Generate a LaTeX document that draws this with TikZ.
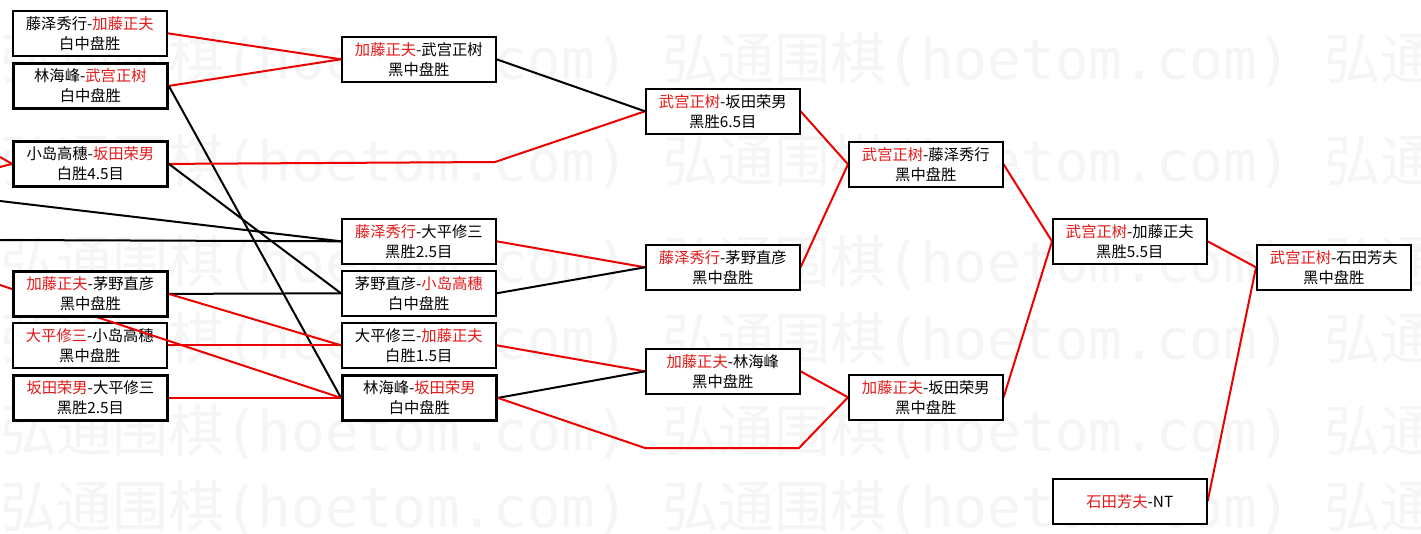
\documentclass[tikz,border=0pt]{standalone}
\usepackage{fontspec}
\setmainfont{Noto Sans CJK SC}
\newfontfamily\wmmono{DejaVu Sans Mono}
\usetikzlibrary{backgrounds}
\pgfdeclarelayer{paper}
\pgfsetlayers{paper,background,main}
\definecolor{wred}{RGB}{228,24,24}
\definecolor{lred}{RGB}{236,0,0}
\definecolor{wmark}{RGB}{245,245,245}
\newcommand{\R}[1]{\textcolor{wred}{#1}}
\newcommand{\wmtext}{弘通围棋{\wmmono(hoetom.com)\ }}
\begin{document}
\begin{tikzpicture}[x=1pt,y=-1pt,
  game/.style={draw=black, line width=1.6pt, fill=white, rectangle,
    minimum width=154pt, minimum height=45pt, inner sep=0pt,
    anchor=north west, align=center, font=\fontsize{15.3}{20}\selectfont},
  heavy/.style={game, line width=2.8pt},
  win/.style={draw=lred, line width=2pt},
  lose/.style={draw=black, line width=2pt},
  wm/.style={anchor=west, text=wmark, inner sep=0pt, font=\fontsize{56}{60}\selectfont}
]
\useasboundingbox (0,0) rectangle (1421,533);
\begin{pgfonlayer}{paper}
  \fill[white] (0,0) rectangle (1421,533);
  \begin{scope}
    \clip (0,0) rectangle (1421,533);
    \foreach \yy in {60,162,263,340,432,508}
      \node[wm] at (0,\yy) {\wmtext\wmtext 弘通};
  \end{scope}
\end{pgfonlayer}

% round 1 (partial)
\node[game]  (A1) at (12,10)  {藤泽秀行-\R{加藤正夫}\\白中盘胜};
\node[heavy] (A2) at (12,62)  {林海峰-\R{武宫正树}\\白中盘胜};
\node[heavy] (A3) at (12,140) {小岛高穗-\R{坂田荣男}\\白胜4.5目};
\node[game]  (A5) at (12,322) {\R{大平修三}-小岛高穗\\黑中盘胜};
\node[heavy] (A6) at (12,374) {\R{坂田荣男}-大平修三\\黑胜2.5目};
% round 2
\node[game]  (B1) at (341,36)  {\R{加藤正夫}-武宫正树\\黑中盘胜};
\node[game]  (B2) at (341,218) {\R{藤泽秀行}-大平修三\\黑胜2.5目};
\node[game]  (B3) at (341,270) {茅野直彦-\R{小岛高穗}\\白中盘胜};
\node[game]  (B4) at (341,322) {大平修三-\R{加藤正夫}\\白胜1.5目};
\node[heavy] (B5) at (341,374) {林海峰-\R{坂田荣男}\\白中盘胜};
% round 3
\node[game] (C1) at (645,88)  {\R{武宫正树}-坂田荣男\\黑胜6.5目};
\node[game] (C2) at (645,244) {\R{藤泽秀行}-茅野直彦\\黑中盘胜};
\node[game] (C3) at (645,348) {\R{加藤正夫}-林海峰\\黑中盘胜};
% round 4
\node[game] (D1) at (848,141) {\R{武宫正树}-藤泽秀行\\黑中盘胜};
\node[game] (D2) at (848,374) {\R{加藤正夫}-坂田荣男\\黑中盘胜};
% round 5
\node[game] (E1) at (1052,218) {\R{武宫正树}-加藤正夫\\黑胜5.5目};
\node[game] (E2) at (1052,478) {\R{石田芳夫}-NT};
% final
\node[game] (F1) at (1256,244) {\R{武宫正树}-石田芳夫\\黑中盘胜};

% free ends at the left border and bends
\coordinate (L1) at (0,157);
\coordinate (L2) at (0,167);
\coordinate (L3) at (0,201);
\coordinate (L4) at (0,240);
\coordinate (L5) at (0,285);
\coordinate (K1) at (495,162);
\coordinate (K2) at (645,448);
\coordinate (K3) at (799,448);

\begin{pgfonlayer}{background}
  \draw[win] (L1) -- (A3.west);
  \draw[win] (L2) -- (A3.west);
  \draw[lose] (L3) -- (B2.west);
  \draw[lose] (L4) -- (B2.west);
  \draw[win] (A1.east) -- (B1.west);
  \draw[win] (A2.east) -- (B1.west);
  \draw[lose] (A2.east) -- (B5.west);
  \draw[win] (A3.east) -- (K1) -- (C1.west);
  \draw[lose] (A3.east) -- (B3.west);
  \draw[win] (A5.east) -- (B4.west);
  \draw[win] (A6.east) -- (B5.west);
  \draw[lose] (B1.east) -- (C1.west);
  \draw[win] (B2.east) -- (C2.west);
  \draw[lose] (B3.east) -- (C2.west);
  \draw[win] (B4.east) -- (C3.west);
  \draw[lose] (B5.east) -- (C3.west);
  \draw[win] (B5.east) -- (K2) -- (K3) -- (D2.west);
  \draw[win] (C1.east) -- (D1.west);
  \draw[win] (C2.east) -- (D1.west);
  \draw[win] (C3.east) -- (D2.west);
  \draw[win] (D1.east) -- (E1.west);
  \draw[win] (D2.east) -- (E1.west);
  \draw[win] (E1.east) -- (F1.west);
  \draw[win] (E2.east) -- (F1.west);
\end{pgfonlayer}

% line that runs over the box of A5 but under the box of A4
\draw[win] (L5) -- (B5.west);
\node[heavy] (A4) at (12,270) {\R{加藤正夫}-茅野直彦\\黑中盘胜};
\begin{pgfonlayer}{background}
  \draw[lose] (A4.east) -- (B3.west);
  \draw[win] (A4.east) -- (B4.west);
\end{pgfonlayer}
\end{tikzpicture}
\end{document}
